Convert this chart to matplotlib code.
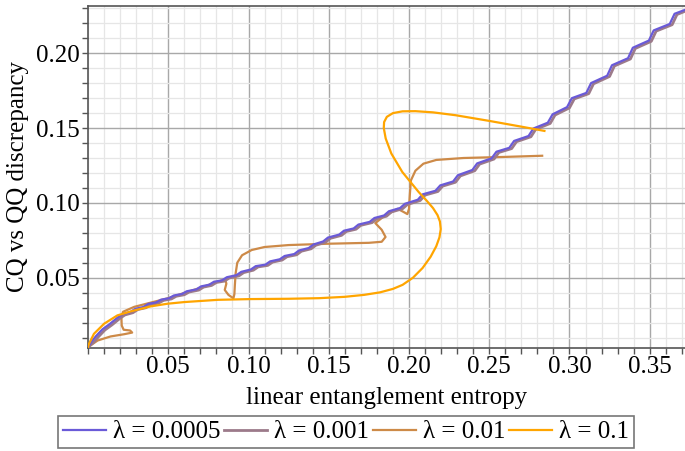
import matplotlib
matplotlib.use('Agg')
import matplotlib.pyplot as plt
from matplotlib.ticker import MultipleLocator, FormatStrFormatter

plt.rcParams['font.family'] = ['Liberation Serif', 'DejaVu Serif']

# lambda = 0.0005 (step-like curve)
l1_x = [0.0, 0.002, 0.005, 0.009, 0.0135,
        0.0185, 0.0215, 0.0265, 0.0295, 0.0345, 0.0375, 0.0425, 0.0455, 0.0505, 0.0535,
        0.0585, 0.0615, 0.0675, 0.0705, 0.0755, 0.0785, 0.0835, 0.0865, 0.0925, 0.0955,
        0.1015, 0.1045, 0.1105, 0.1135, 0.1195, 0.1225, 0.1285, 0.1315, 0.1375, 0.1405,
        0.1465, 0.1495, 0.1565, 0.1595, 0.1655, 0.1685, 0.1755, 0.1785, 0.1845, 0.1875,
        0.1945, 0.1975, 0.2055, 0.2085, 0.2165, 0.2195, 0.2275, 0.2305, 0.2395, 0.2425,
        0.2515, 0.2545, 0.2625, 0.2655, 0.2745, 0.2775, 0.2865, 0.2895, 0.2985, 0.3015,
        0.3105, 0.3135, 0.3235, 0.3265, 0.3365, 0.3395, 0.3495, 0.3525, 0.3625, 0.3655, 0.372]
l1_y = [0.0035, 0.007, 0.011, 0.0155, 0.019,
        0.0234, 0.0256, 0.0271, 0.0292, 0.0304, 0.0325, 0.0335, 0.0353, 0.0363, 0.0381,
        0.0391, 0.0409, 0.0422, 0.0442, 0.0453, 0.0473, 0.0482, 0.0503, 0.0517, 0.0539,
        0.0555, 0.0577, 0.0587, 0.0609, 0.0623, 0.0645, 0.0658, 0.0682, 0.0698, 0.0722,
        0.0742, 0.0768, 0.0788, 0.0814, 0.0829, 0.0855, 0.0873, 0.0899, 0.0916, 0.0944,
        0.0966, 0.0994, 0.1021, 0.1057, 0.1081, 0.1117, 0.1143, 0.1185, 0.1220, 0.1264,
        0.1298, 0.1342, 0.1368, 0.1414, 0.1447, 0.1497, 0.1536, 0.1592, 0.1640, 0.1700,
        0.1735, 0.1801, 0.1850, 0.1920, 0.1967, 0.2037, 0.2085, 0.2153, 0.2196, 0.2264, 0.2290]

# lambda = 0.001
l2_x = [0.0, 0.0035, 0.0065, 0.0105, 0.015,
        0.020, 0.023, 0.028, 0.031, 0.036, 0.039, 0.044, 0.047, 0.052, 0.055,
        0.060, 0.063, 0.069, 0.072, 0.077, 0.080, 0.085, 0.088, 0.094, 0.097,
        0.103, 0.106, 0.112, 0.115, 0.121, 0.124, 0.130, 0.133, 0.139, 0.142,
        0.148, 0.151, 0.158, 0.161, 0.167, 0.170, 0.177, 0.180, 0.186, 0.189,
        0.196, 0.199, 0.207, 0.210, 0.218, 0.221, 0.229, 0.232, 0.241, 0.244,
        0.253, 0.256, 0.264, 0.267, 0.276, 0.279, 0.288, 0.291, 0.300, 0.303,
        0.312, 0.315, 0.325, 0.328, 0.338, 0.341, 0.351, 0.354, 0.364, 0.367, 0.373]
l2_y = [0.0035, 0.0068, 0.0105, 0.015, 0.0185,
        0.0229, 0.0251, 0.0266, 0.0287, 0.0299, 0.0320, 0.0330, 0.0348, 0.0358, 0.0376,
        0.0386, 0.0404, 0.0417, 0.0437, 0.0448, 0.0468, 0.0477, 0.0498, 0.0512, 0.0534,
        0.0550, 0.0572, 0.0582, 0.0604, 0.0618, 0.0640, 0.0653, 0.0677, 0.0693, 0.0717,
        0.0737, 0.0763, 0.0783, 0.0809, 0.0824, 0.0850, 0.0868, 0.0894, 0.0911, 0.0939,
        0.0961, 0.0989, 0.1016, 0.1052, 0.1076, 0.1112, 0.1138, 0.1180, 0.1215, 0.1259,
        0.1293, 0.1337, 0.1363, 0.1409, 0.1442, 0.1492, 0.1531, 0.1587, 0.1635, 0.1695,
        0.1730, 0.1796, 0.1845, 0.1915, 0.1962, 0.2032, 0.2080, 0.2148, 0.2191, 0.2259, 0.2285]

# lambda = 0.01
l3_x = [0.0, 0.006, 0.014, 0.0225, 0.0275, 0.0262, 0.0222, 0.0210, 0.0208, 0.0218,
        0.0288, 0.039, 0.050, 0.060, 0.070, 0.080, 0.0855, 0.0862, 0.0852, 0.0875,
        0.0906, 0.0912, 0.0915, 0.0920, 0.0930, 0.0960, 0.1020, 0.1100, 0.1250, 0.1500,
        0.1750, 0.1830, 0.1854, 0.1830, 0.1790, 0.1850, 0.1930, 0.1965, 0.1990, 0.2000,
        0.2005, 0.2012, 0.2040, 0.2090, 0.2170, 0.2340, 0.2590, 0.2830]
l3_y = [0.0036, 0.0080, 0.0107, 0.0122, 0.0133, 0.0147, 0.0152, 0.0180, 0.0236, 0.0272,
        0.0305, 0.0333, 0.0363, 0.0398, 0.0432, 0.0470, 0.0490, 0.0460, 0.0418, 0.0385,
        0.0362, 0.0390, 0.0450, 0.0530, 0.0600, 0.0650, 0.0685, 0.0705, 0.0718, 0.0727,
        0.0733, 0.0740, 0.0772, 0.0820, 0.0865, 0.0915, 0.0960, 0.0940, 0.0925, 0.0960,
        0.1050, 0.1150, 0.1215, 0.1262, 0.1287, 0.1300, 0.1307, 0.1315]

# lambda = 0.1
l4_x = [0.0, 0.0006, 0.0037, 0.010, 0.0183, 0.0288, 0.039, 0.0496, 0.060, 0.081,
        0.1017, 0.125, 0.144, 0.160, 0.172, 0.182, 0.190, 0.196, 0.2025, 0.2085,
        0.2135, 0.2170, 0.2190, 0.2198, 0.2193, 0.2178, 0.2150, 0.2110, 0.2060, 0.1958,
        0.1890, 0.1855, 0.1843, 0.1845, 0.1862, 0.1900, 0.1960, 0.2040, 0.2150, 0.2290,
        0.2500, 0.2708, 0.2844]
l4_y = [0.0036, 0.0058, 0.0125, 0.0192, 0.0248, 0.0281, 0.0308, 0.0326, 0.0337, 0.0352,
        0.0357, 0.0359, 0.0363, 0.0372, 0.0385, 0.0402, 0.0425, 0.0452, 0.0500, 0.0565,
        0.0640, 0.0710, 0.0770, 0.0825, 0.0875, 0.0918, 0.0965, 0.1015, 0.1073, 0.1207,
        0.1330, 0.1430, 0.1500, 0.1540, 0.1575, 0.1600, 0.1612, 0.1613, 0.1605, 0.1586,
        0.1548, 0.1508, 0.1481]

labels = ['λ = 0.0005', 'λ = 0.001', 'λ = 0.01', 'λ = 0.1']
colors = ['#6a5ad8', '#9c7a8a', '#cd8a48', '#ffa500']

fig = plt.figure(figsize=(6.85, 4.51), dpi=100)
ax = fig.add_axes([0.1285, 0.2284, 0.8715, 0.7583])

ax.plot(l1_x, l1_y, color=colors[0], lw=1.6, label=labels[0], zorder=4, solid_joinstyle='round')
ax.plot(l2_x, l2_y, color=colors[1], lw=2.0, label=labels[1], zorder=3, solid_joinstyle='round')
ax.plot(l3_x, l3_y, color=colors[2], lw=1.6, label=labels[2], zorder=2, solid_joinstyle='round')
ax.plot(l4_x, l4_y, color=colors[3], lw=1.6, label=labels[3], zorder=5, solid_joinstyle='round')

ax.set_xlim(0, 0.372)
ax.set_ylim(0.003, 0.2316)
ax.set_xticks([0.05, 0.10, 0.15, 0.20, 0.25, 0.30, 0.35])
ax.set_yticks([0.05, 0.10, 0.15, 0.20])
ax.xaxis.set_minor_locator(MultipleLocator(0.01))
ax.yaxis.set_minor_locator(MultipleLocator(0.01))
ax.xaxis.set_major_formatter(FormatStrFormatter('%.2f'))
ax.yaxis.set_major_formatter(FormatStrFormatter('%.2f'))

ax.grid(which='major', color='#a8a8a8', lw=1.0, zorder=0)
ax.grid(which='minor', color='#e6e6e6', lw=0.9, zorder=0)
ax.set_axisbelow(True)

ax.tick_params(which='both', direction='out', color='#555555', labelsize=18)
ax.tick_params(which='major', length=4, width=1, pad=2)
ax.tick_params(which='minor', length=4, width=1)
for s in ['left', 'bottom', 'top']:
    ax.spines[s].set_color('#555555')
    ax.spines[s].set_linewidth(1.2)
ax.spines['right'].set_visible(False)

ax.set_xlabel('linear entanglement entropy', fontsize=18, labelpad=6)
ax.set_ylabel('CQ vs QQ discrepancy', fontsize=18, labelpad=5)

leg = fig.legend(loc='upper left', bbox_to_anchor=(0.0847, 0.078), ncol=4,
                 fontsize=18, frameon=True, fancybox=False, handlelength=1.7,
                 handletextpad=0.3, columnspacing=0.15, borderpad=0.2,
                 borderaxespad=0)
leg.get_frame().set_edgecolor('#555555')
leg.get_frame().set_linewidth(1.2)

plt.savefig('out.png', dpi=100)
